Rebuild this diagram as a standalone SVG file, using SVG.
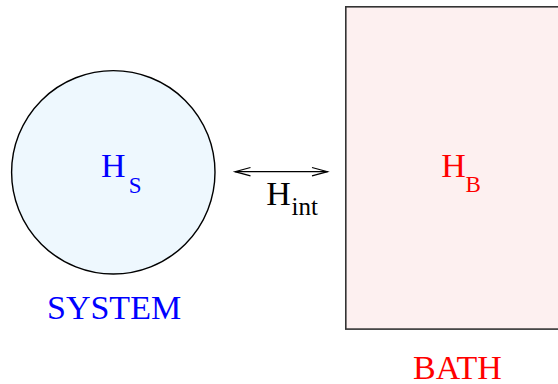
<svg xmlns="http://www.w3.org/2000/svg" width="558" height="384" viewBox="0 0 558 384">
<style>
.t{font-family:"Liberation Serif","Times New Roman",serif;}
.big{font-size:34px;}
.sub{font-size:23px;}
.blue{fill:#0000ff;}
.red{fill:#ff0000;}
.blk{fill:#000;}
.conn{stroke:#000;stroke-width:1.2;fill:none;}
</style>
<rect width="558" height="384" fill="#fff"/>
<g id="system">
<circle cx="113.3" cy="172.3" r="101.7" fill="#eef8fe" stroke="#000" stroke-width="1.4"/>
<text class="t big blue" x="101" y="177.3">H</text>
<text class="t sub blue" x="128.7" y="192.7">S</text>
<text class="t big blue" x="47" y="319.3">SYSTEM</text>
</g>
<g id="bath">
<rect x="345.8" y="6.8" width="230" height="322.3" fill="#fdf0f0" stroke="#333" stroke-width="1.6"/>
<text class="t big red" x="441.2" y="177.3">H</text>
<text class="t sub red" x="465.5" y="191.7">B</text>
<text class="t big red" x="413" y="379.3">BATH</text>
</g>
<g id="connectors">
<line class="conn" x1="235" y1="171.7" x2="327.5" y2="171.7"/>
<polyline class="conn" points="250.5,167.5 235,171.7 250.5,175.9"/>
<polyline class="conn" points="312,167.5 327.5,171.7 312,175.9"/>
<text class="t big blk" x="266.2" y="205">H</text>
<text class="t blk" font-size="25" x="291.5" y="215">int</text>
</g>
</svg>
